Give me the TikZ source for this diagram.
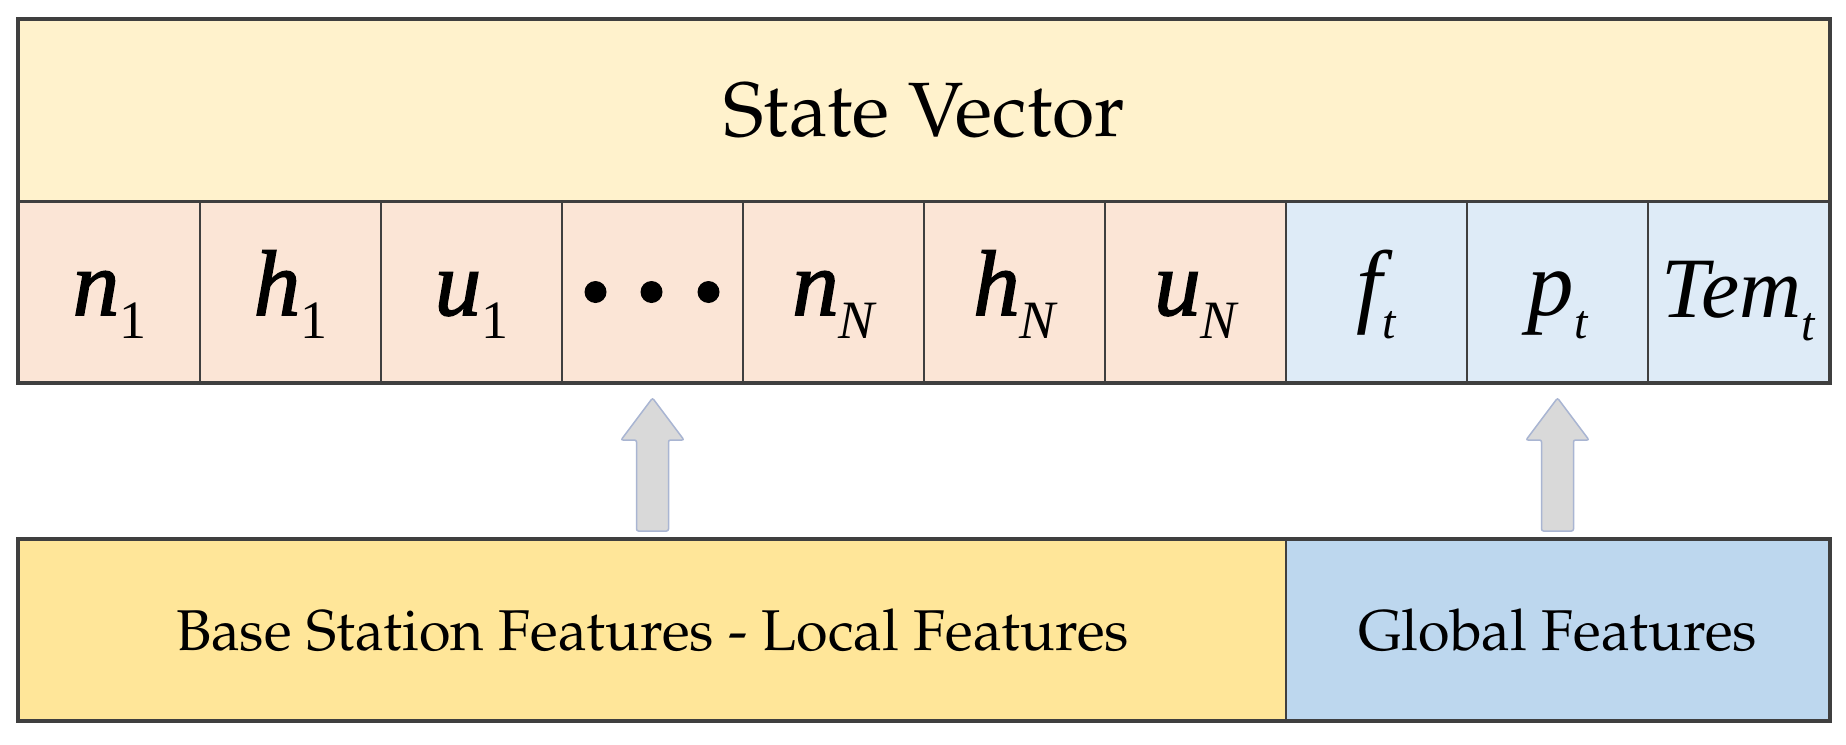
\documentclass[tikz,border=0pt]{standalone}
\usepackage{fontspec}
\newfontfamily\varfont{Liberation Serif}
\newfontfamily\varfontb{Liberation Serif}[FakeBold=1.6]
\usetikzlibrary{calc}
\definecolor{bandY}{HTML}{FFF2CC}
\definecolor{cellR}{HTML}{FBE5D6}
\definecolor{cellB}{HTML}{DEEBF7}
\definecolor{botY}{HTML}{FFE699}
\definecolor{botB}{HTML}{BDD7EE}
\definecolor{edgeC}{HTML}{3F3F3F}
\definecolor{arrFill}{HTML}{D9D9D9}
\definecolor{arrEdge}{HTML}{A9B5D2}
\newcommand\palfont{\fontencoding{OT1}\fontfamily{ppl}\selectfont}
% #1 main-letter font, #2 main, #3 subscript (with its size)
\newcommand\symb[3]{{#1\itshape #2}\raisebox{-23pt}{\varfont #3}}
\newcommand\subA[1]{\fontsize{54}{54}\selectfont #1}
\newcommand\subT{\fontsize{48}{48}\selectfont\itshape t}
\tikzset{
  cellbox/.style={rectangle, draw=edgeC, line width=2pt, minimum width=181pt,
    minimum height=180pt, inner sep=0pt, text height=46pt, text depth=0pt,
    font=\fontsize{93}{93}\selectfont},
  bandbox/.style={rectangle, draw=edgeC, line width=2pt, inner sep=0pt, fill=bandY},
  outerline/.style={draw=edgeC, line width=3.5pt},
  blockarr/.style={fill=arrFill, draw=arrEdge, line width=1.5pt, rounded corners=2pt},
  dotmark/.style={circle, fill=black, inner sep=0pt, minimum size=22pt}
}
\begin{document}
\begin{tikzpicture}[x=1pt,y=-1pt]
\useasboundingbox (0,0) rectangle (1846,744);
% top band
\node[bandbox, minimum width=1810pt, minimum height=181pt,
  font=\fontsize{77}{77}\selectfont\palfont] (band) at (924,110) {State Vector};
% cells
\node[cellbox, fill=cellR] (c1) at (109.5,292) {\symb{\varfontb}{n}{\subA{1}}};
\node[cellbox, fill=cellR] (c2) at (290.5,292) {\symb{\varfontb}{h}{\subA{1}}};
\node[cellbox, fill=cellR] (c3) at (471.5,292) {\symb{\varfontb}{u}{\subA{1}}};
\node[cellbox, fill=cellR] (c4) at (652.5,292) {};
\node[cellbox, fill=cellR] (c5) at (833.5,292) {\symb{\varfontb}{n}{\subA{\itshape N}}};
\node[cellbox, fill=cellR] (c6) at (1014.5,292) {\symb{\varfontb}{h}{\subA{\itshape N}}};
\node[cellbox, fill=cellR] (c7) at (1195.5,292) {\symb{\varfontb}{u}{\subA{\itshape N}}};
\node[cellbox, fill=cellB] (c8) at (1376.5,292) {\symb{\varfont}{f}{\subT}};
\node[cellbox, fill=cellB] (c9) at (1557.5,292) {\symb{\varfont}{p}{\subT}};
\node[cellbox, fill=cellB, font=\fontsize{86}{86}\selectfont] (c10) at (1738.5,292)
  {\raisebox{-2pt}{\symb{\varfont}{Tem}{\subT}}};
% dots
\node[dotmark] (d1) at ($(c4.center)+(-57,0)$) {};
\node[dotmark] (d2) at ($(c4.center)+(-1,0)$) {};
\node[dotmark] (d3) at ($(c4.center)+(56,0)$) {};
\draw[outerline] (band.north west) rectangle (c10.south east);
% bottom boxes
\node[bandbox, fill=botY, minimum width=1267pt, minimum height=180pt,
  font=\fontsize{57.5}{57.5}\selectfont\palfont] (local) at (652.5,630) {Base Station Features - Local Features};
\node[bandbox, fill=botB, minimum width=543pt, minimum height=180pt,
  font=\fontsize{57.5}{57.5}\selectfont\palfont] (global) at (1557.5,630) {Global Features};
\draw[outerline] (local.north west) rectangle (global.south east);
% block arrows
\foreach \top/\bot in {c4/local, c9/global}{
  \draw[blockarr] let \p1=($(\top.south)+(0,15)$), \p2=($(\bot.north)+(0,-8)$) in
    (\x1,\y1) -- (\x1+31.5pt,\y1-42pt) -- (\x1+16pt,\y1-42pt) -- (\x1+16pt,\y2)
    -- (\x1-16pt,\y2) -- (\x1-16pt,\y1-42pt) -- (\x1-31.5pt,\y1-42pt) -- cycle;
}
\end{tikzpicture}
\end{document}
